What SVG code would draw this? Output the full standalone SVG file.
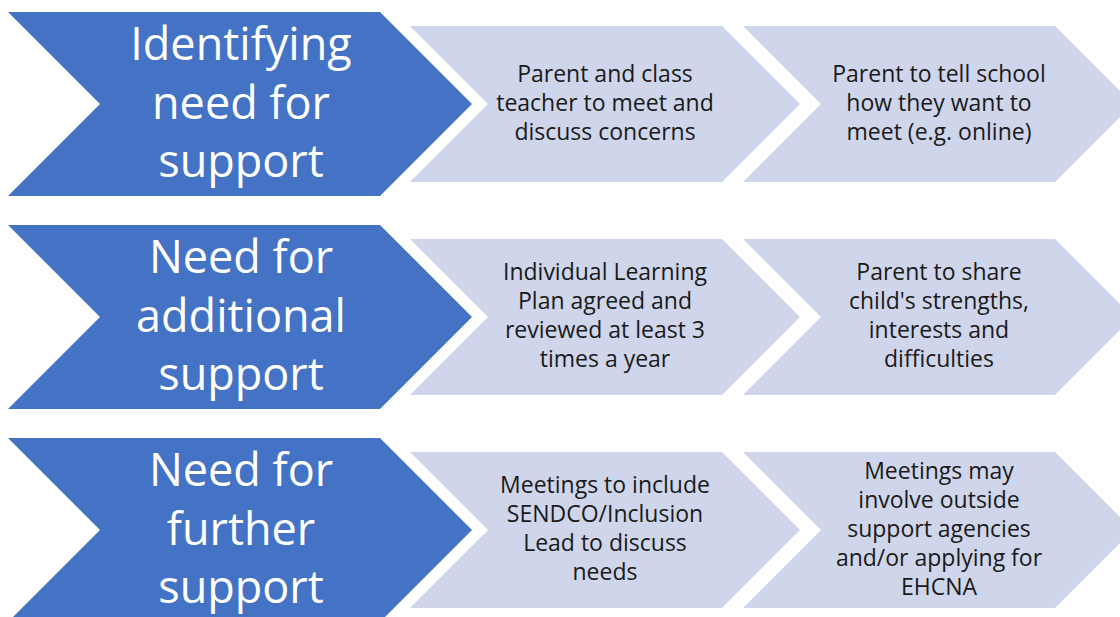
<svg xmlns="http://www.w3.org/2000/svg" width="1120" height="617" viewBox="0 0 1120 617">
<style>
.bg{fill:#ffffff}
.main{fill:#4472C4}
.step{fill:#CFD5EA}
.mt{font-family:"Open Sans","Noto Sans",sans-serif;font-size:45px;fill:#ffffff;text-anchor:middle}
.st{font-family:"Open Sans","Noto Sans",sans-serif;font-size:23px;fill:#1a1a1a;text-anchor:middle}
</style>
<rect class="bg" x="0" y="0" width="1120" height="617"/>
<g id="connectors"></g>
<!-- Row 1 -->
<g id="row1-main">
<polygon class="main" points="8,12 380,12 472,104 380,196 8,196 100,104"/>
<text class="mt" x="241"><tspan x="241" y="60">Identifying</tspan><tspan x="241" y="118.5">need for</tspan><tspan x="241" y="177">support</tspan></text>
</g>
<g id="row1-step1">
<polygon class="step" points="410,26 722,26 800,104 722,182 410,182 488,104"/>
<text class="st"><tspan x="605" y="82">Parent and class</tspan><tspan x="605" y="111">teacher to meet and</tspan><tspan x="605" y="140">discuss concerns</tspan></text>
</g>
<g id="row1-step2">
<polygon class="step" points="743,26 1055,26 1133,104 1055,182 743,182 821,104"/>
<text class="st"><tspan x="939" y="82">Parent to tell school</tspan><tspan x="939" y="111">how they want to</tspan><tspan x="939" y="140">meet (e.g. online)</tspan></text>
</g>
<!-- Row 2 -->
<g id="row2-main">
<polygon class="main" points="8,225 380,225 472,317 380,409 8,409 100,317"/>
<text class="mt"><tspan x="241" y="273">Need for</tspan><tspan x="241" y="331.5">additional</tspan><tspan x="241" y="390">support</tspan></text>
</g>
<g id="row2-step1">
<polygon class="step" points="410,239 722,239 800,317 722,395 410,395 488,317"/>
<text class="st"><tspan x="605" y="280">Individual Learning</tspan><tspan x="605" y="309">Plan agreed and</tspan><tspan x="605" y="338">reviewed at least 3</tspan><tspan x="605" y="367">times a year</tspan></text>
</g>
<g id="row2-step2">
<polygon class="step" points="743,239 1055,239 1133,317 1055,395 743,395 821,317"/>
<text class="st"><tspan x="939" y="280">Parent to share</tspan><tspan x="939" y="309">child's strengths,</tspan><tspan x="939" y="338">interests and</tspan><tspan x="939" y="367">difficulties</tspan></text>
</g>
<!-- Row 3 -->
<g id="row3-main">
<polygon class="main" points="8,438 380,438 472,530 380,622 8,622 100,530"/>
<text class="mt"><tspan x="241" y="486">Need for</tspan><tspan x="241" y="544.5">further</tspan><tspan x="241" y="603">support</tspan></text>
</g>
<g id="row3-step1">
<polygon class="step" points="410,452 722,452 800,530 722,608 410,608 488,530"/>
<text class="st"><tspan x="605" y="493">Meetings to include</tspan><tspan x="605" y="522">SENDCO/Inclusion</tspan><tspan x="605" y="551">Lead to discuss</tspan><tspan x="605" y="580">needs</tspan></text>
</g>
<g id="row3-step2">
<polygon class="step" points="743,452 1055,452 1133,530 1055,608 743,608 821,530"/>
<text class="st"><tspan x="939" y="479">Meetings may</tspan><tspan x="939" y="508">involve outside</tspan><tspan x="939" y="537">support agencies</tspan><tspan x="939" y="566">and/or applying for</tspan><tspan x="939" y="595">EHCNA</tspan></text>
</g>
</svg>
